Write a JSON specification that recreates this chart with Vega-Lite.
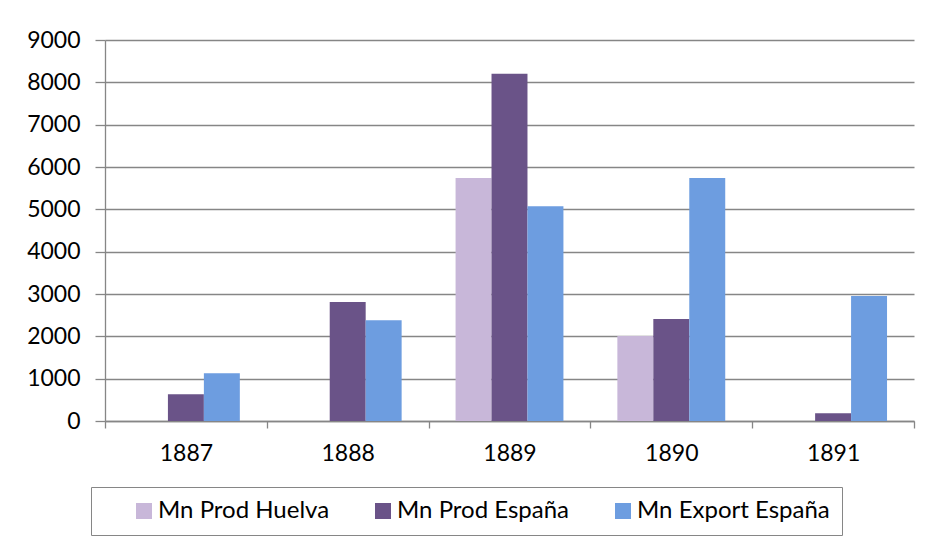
{
  "$schema": "https://vega.github.io/schema/vega-lite/v6.json",
  "width": 809,
  "height": 381,
  "autosize": {"type": "none"},
  "padding": {"left": 105, "top": 40, "right": 15, "bottom": 125},
  "background": "white",
  "data": {
    "values": [
      {"year": "1887", "series": "Mn Prod Huelva", "value": 0},
      {"year": "1887", "series": "Mn Prod España", "value": 630},
      {"year": "1887", "series": "Mn Export España", "value": 1130},
      {"year": "1888", "series": "Mn Prod Huelva", "value": 0},
      {"year": "1888", "series": "Mn Prod España", "value": 2810},
      {"year": "1888", "series": "Mn Export España", "value": 2380},
      {"year": "1889", "series": "Mn Prod Huelva", "value": 5740},
      {"year": "1889", "series": "Mn Prod España", "value": 8200},
      {"year": "1889", "series": "Mn Export España", "value": 5070},
      {"year": "1890", "series": "Mn Prod Huelva", "value": 2005},
      {"year": "1890", "series": "Mn Prod España", "value": 2410},
      {"year": "1890", "series": "Mn Export España", "value": 5740},
      {"year": "1891", "series": "Mn Prod Huelva", "value": 0},
      {"year": "1891", "series": "Mn Prod España", "value": 185},
      {"year": "1891", "series": "Mn Export España", "value": 2950}
    ]
  },
  "mark": {"type": "bar"},
  "encoding": {
    "x": {
      "field": "year",
      "type": "nominal",
      "scale": {"paddingInner": 0, "paddingOuter": 0},
      "axis": {
        "title": null,
        "labelAngle": 0,
        "grid": false,
        "tickBand": "extent",
        "tickSize": 7,
        "labelPadding": 14,
        "labelFont": "Lato",
        "labelFontSize": 23,
        "labelColor": "#000000",
        "domainColor": "#868686",
        "tickColor": "#868686"
      }
    },
    "xOffset": {
      "field": "series",
      "sort": ["Mn Prod Huelva", "Mn Prod España", "Mn Export España"],
      "scale": {"paddingInner": 0, "paddingOuter": 0.75}
    },
    "y": {
      "field": "value",
      "type": "quantitative",
      "scale": {"domain": [0, 9000], "nice": false},
      "axis": {
        "title": null,
        "values": [0, 1000, 2000, 3000, 4000, 5000, 6000, 7000, 8000, 9000],
        "format": "d",
        "tickSize": 10,
        "labelPadding": 15,
        "labelFont": "Lato",
        "labelFontSize": 23,
        "labelColor": "#000000",
        "domainColor": "#868686",
        "tickColor": "#868686",
        "gridColor": "#868686",
        "gridWidth": 1.3
      }
    },
    "color": {
      "field": "series",
      "type": "nominal",
      "sort": ["Mn Prod Huelva", "Mn Prod España", "Mn Export España"],
      "scale": {
        "domain": ["Mn Prod Huelva", "Mn Prod España", "Mn Export España"],
        "range": ["#c8b7d9", "#6a5388", "#6d9de0"]
      },
      "legend": {
        "title": null,
        "orient": "none",
        "legendX": -14,
        "legendY": 447,
        "direction": "horizontal",
        "columns": 3,
        "symbolType": "square",
        "symbolSize": 256,
        "symbolStrokeWidth": 0,
        "symbolOffset": 29,
        "labelFont": "Lato",
        "labelFontSize": 24,
        "labelLimit": 400,
        "labelColor": "#000000",
        "labelOffset": 2,
        "columnPadding": 12,
        "padding": 12,
        "strokeColor": "#868686",
        "fillColor": "white"
      }
    }
  },
  "config": {
    "view": {"stroke": null},
    "axis": {"domainWidth": 1.3, "tickWidth": 1.3}
  }
}
